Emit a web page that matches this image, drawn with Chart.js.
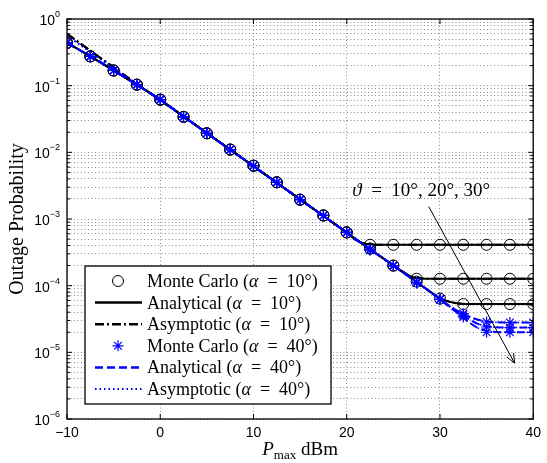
<!DOCTYPE html>
<html>
<head>
<meta charset="utf-8">
<script src="https://cdn.jsdelivr.net/npm/chart.js@4.4.1/dist/chart.umd.min.js"></script>
<style>
  html, body { margin: 0; padding: 0; background: #fff; }
  #wrap { width: 547px; height: 463px; }
</style>
</head>
<body>
<div id="wrap"><canvas id="c" width="547" height="463"></canvas></div>
<script>
// ---- Monte Carlo samples (every 2.5 dBm) ----
const mcX = [-10,-7.5,-5,-2.5,0,2.5,5,7.5,10,12.5,15,17.5,20,22.5,25,27.5,30,32.5,35,37.5,40];
const mcHead = [0.437,0.275,0.169,0.1035,0.0617,0.034,0.0193,0.011,0.0063,0.00355,0.00195,0.00113,0.00063];
const mcA10T10 = mcHead.concat([4.1e-4,4.1e-4,4.1e-4,4.1e-4,4.1e-4,4.1e-4,4.1e-4,4.1e-4]);
const mcA10T20 = mcHead.concat([3.6e-4,2.0e-4,1.27e-4,1.27e-4,1.27e-4,1.27e-4,1.27e-4,1.27e-4]);
const mcA10T30 = mcHead.concat([3.6e-4,2.0e-4,1.15e-4,6.4e-5,5.3e-5,5.3e-5,5.3e-5,5.3e-5]);
const mcA40T10 = mcHead.concat([3.5e-4,2.0e-4,1.12e-4,6.3e-5,3.8e-5,2.85e-5,2.8e-5,2.8e-5]);
const mcA40T20 = mcHead.concat([3.5e-4,2.0e-4,1.11e-4,6.2e-5,3.6e-5,2.4e-5,2.35e-5,2.35e-5]);
const mcA40T30 = mcHead.concat([3.4e-4,1.98e-4,1.1e-4,6.2e-5,3.4e-5,2.0e-5,2.0e-5,2.0e-5]);

// ---- Analytical curves ----
const anaX = [-10,-7.5,-5,-2.5,0,2.5,5,7.5,10,12.5,15,17.5,20,21,22,23,24,25,26,27,28,29,30,31,32,33,34,35,36,37.5,40];
const anaHead = [0.44,0.276,0.17,0.103,0.0615,0.0345,0.0194,0.011,0.0062,0.0035,0.00197,0.00111,0.000625];
const anaSlope = [4.95e-4,3.95e-4,3.15e-4,2.52e-4,2.0e-4,1.6e-4,1.27e-4,1.01e-4,8.0e-5];
const anaA10T10 = anaHead.concat([4.8e-4,4.25e-4,4.12e-4,4.1e-4,4.1e-4,4.1e-4,4.1e-4,4.1e-4,4.1e-4,4.1e-4,4.1e-4,4.1e-4,4.1e-4,4.1e-4,4.1e-4,4.1e-4,4.1e-4,4.1e-4]);
const anaA10T20 = anaHead.concat([4.95e-4,3.95e-4,3.15e-4,2.52e-4,2.0e-4,1.62e-4,1.35e-4,1.285e-4,1.27e-4,1.27e-4,1.27e-4,1.27e-4,1.27e-4,1.27e-4,1.27e-4,1.27e-4,1.27e-4,1.27e-4]);
const anaA10T30 = anaHead.concat(anaSlope, [6.4e-5,5.75e-5,5.4e-5,5.3e-5,5.3e-5,5.3e-5,5.3e-5,5.3e-5,5.3e-5]);
const anaA40T10 = anaHead.concat(anaSlope, [6.3e-5,5.0e-5,4.1e-5,3.5e-5,3.1e-5,2.9e-5,2.83e-5,2.8e-5,2.8e-5]);
const anaA40T20 = anaHead.concat(anaSlope, [6.25e-5,4.9e-5,3.9e-5,3.2e-5,2.7e-5,2.45e-5,2.38e-5,2.35e-5,2.35e-5]);
const anaA40T30 = anaHead.concat(anaSlope, [6.2e-5,4.85e-5,3.75e-5,2.9e-5,2.35e-5,2.1e-5,2.02e-5,2.0e-5,2.0e-5]);

// ---- Asymptotic curves: low-SNR part, then they merge with the analytical ones ----
const asymLowA10 = [0.60,0.335,0.188,0.106,0.0605];
const asymLowA40 = [0.56,0.32,0.182,0.105,0.0605];
const asymA10T10 = asymLowA10.concat(anaA10T10.slice(5));
const asymA10T20 = asymLowA10.concat(anaA10T20.slice(5));
const asymA10T30 = asymLowA10.concat(anaA10T30.slice(5));
const asymA40T10 = asymLowA40.concat(anaA40T10.slice(5));
const asymA40T20 = asymLowA40.concat(anaA40T20.slice(5));
const asymA40T30 = asymLowA40.concat(anaA40T30.slice(5));

const xTicks = [-10,0,10,20,30,40];
const yDecades = [1,1e-1,1e-2,1e-3,1e-4,1e-5,1e-6];
const legendLabels = ['Monte Carlo', 'Analytical', 'Asymptotic', 'Monte Carlo', 'Analytical', 'Asymptotic'];
const legendAlpha = ['10', '10', '10', '40', '40', '40'];
const thetaLabel = '10°, 20°, 30°';

const BLUE = '#0000ff';
const SERIF = '"Liberation Serif", "DejaVu Serif", serif';
const SANS = '"Liberation Sans", Arial, sans-serif';
const EQ = '\u2002=\u2002';

function pts(xs, ys) { return xs.map((x, i) => ({ x: x, y: ys[i] })); }

const styles = {
  mc10:   { showLine: false, pointStyle: 'circle', pointRadius: 5.5, borderColor: '#000', pointBorderColor: '#000', pointBackgroundColor: 'rgba(0,0,0,0)', pointBorderWidth: 1, borderWidth: 1 },
  ana10:  { borderColor: '#000', borderWidth: 2, pointRadius: 0, borderDash: [], cubicInterpolationMode: 'monotone' },
  asy10:  { borderColor: '#000', borderWidth: 2, pointRadius: 0, borderDash: [9, 3, 2, 3], cubicInterpolationMode: 'monotone' },
  mc40:   { showLine: false, pointStyle: 'star', pointRadius: 5.5, borderColor: BLUE, pointBorderColor: BLUE, pointBackgroundColor: BLUE, pointBorderWidth: 1.2, borderWidth: 1.2 },
  ana40:  { borderColor: BLUE, borderWidth: 2, pointRadius: 0, borderDash: [8, 4], cubicInterpolationMode: 'monotone' },
  asy40:  { borderColor: BLUE, borderWidth: 1.5, pointRadius: 0, borderDash: [1.5, 3], cubicInterpolationMode: 'monotone' }
};

// plotting order: later entries are drawn on top
const series = [
  ['mc10', mcX, mcA10T10], ['mc10', mcX, mcA10T20], ['mc10', mcX, mcA10T30],
  ['ana10', anaX, anaA10T10], ['ana10', anaX, anaA10T20], ['ana10', anaX, anaA10T30],
  ['asy10', anaX, asymA10T10], ['asy10', anaX, asymA10T20], ['asy10', anaX, asymA10T30],
  ['mc40', mcX, mcA40T10], ['mc40', mcX, mcA40T20], ['mc40', mcX, mcA40T30],
  ['ana40', anaX, anaA40T10], ['ana40', anaX, anaA40T20], ['ana40', anaX, anaA40T30],
  ['asy40', anaX, asymA40T10], ['asy40', anaX, asymA40T20], ['asy40', anaX, asymA40T30]
];

const datasets = series.map((s, i) => Object.assign({
  label: s[0], data: pts(s[1], s[2]), fill: false, order: -i, tension: 0
}, styles[s[0]]));

function richText(ctx, segs, x, y, align) {
  let w = 0;
  segs.forEach(s => { ctx.font = s[1]; w += ctx.measureText(s[0]).width; });
  let cx = align === 'center' ? x - w / 2 : (align === 'right' ? x - w : x);
  ctx.textAlign = 'left';
  ctx.textBaseline = 'alphabetic';
  segs.forEach(s => { ctx.font = s[1]; ctx.fillText(s[0], cx, y + (s[2] || 0)); cx += ctx.measureText(s[0]).width; });
  return w;
}

function drawStar(ctx, x, y, r) {
  ctx.beginPath();
  for (let k = 0; k < 4; k++) {
    const a = k * Math.PI / 4;
    ctx.moveTo(x - r * Math.cos(a), y - r * Math.sin(a));
    ctx.lineTo(x + r * Math.cos(a), y + r * Math.sin(a));
  }
  ctx.stroke();
}

const decorPlugin = {
  id: 'decor',
  afterDraw(chart) {
    const ctx = chart.ctx;
    const a = chart.chartArea;
    const xs = chart.scales.x, ys = chart.scales.y;
    ctx.save();

    // axes box
    ctx.strokeStyle = '#000';
    ctx.lineWidth = 1.3;
    ctx.setLineDash([]);
    ctx.strokeRect(a.left, a.top, a.right - a.left, a.bottom - a.top);

    // inward tick marks
    ctx.lineWidth = 1;
    ctx.beginPath();
    xTicks.forEach(v => {
      const px = xs.getPixelForValue(v);
      ctx.moveTo(px, a.bottom); ctx.lineTo(px, a.bottom - 5);
      ctx.moveTo(px, a.top); ctx.lineTo(px, a.top + 5);
    });
    for (let e = -6; e <= 0; e++) {
      for (let m = 1; m < 10; m++) {
        if (e === 0 && m > 1) break;
        const py = ys.getPixelForValue(m * Math.pow(10, e));
        const len = m === 1 ? 5 : 3;
        ctx.moveTo(a.left, py); ctx.lineTo(a.left + len, py);
        ctx.moveTo(a.right, py); ctx.lineTo(a.right - len, py);
      }
    }
    ctx.stroke();

    // y tick labels with exponents
    ctx.fillStyle = '#000';
    yDecades.forEach((v, i) => {
      const py = ys.getPixelForValue(v);
      const exp = i === 0 ? '0' : '\u2212' + i;
      ctx.font = '9px ' + SANS;
      const ew = ctx.measureText(exp).width;
      const right = a.left - 7;
      ctx.textAlign = 'left'; ctx.textBaseline = 'alphabetic';
      ctx.fillText(exp, right - ew, py - 2);
      ctx.font = '14px ' + SANS;
      ctx.textAlign = 'right';
      ctx.fillText('10', right - ew, py + 6);
    });

    // axis titles
    ctx.fillStyle = '#000';
    richText(ctx, [['P', 'italic 19px ' + SERIF], ['max', '13px ' + SERIF, 4], [' dBm', '19px ' + SERIF]], (a.left + a.right) / 2, 455, 'center');
    ctx.save();
    ctx.translate(18, (a.top + a.bottom) / 2);
    ctx.rotate(-Math.PI / 2);
    ctx.font = '20px ' + SERIF;
    ctx.textAlign = 'center'; ctx.textBaseline = 'alphabetic';
    ctx.fillText('Outage Probability', 0, 5);
    ctx.restore();

    // annotation: theta values with arrow
    const tx = xs.getPixelForValue(20.6), ty = ys.getPixelForValue(2.2e-3);
    richText(ctx, [['\u03D1', 'italic 19px ' + SERIF], [EQ + thetaLabel, '19px ' + SERIF]], tx, ty, 'left');
    const x0 = xs.getPixelForValue(28.8), y0 = ys.getPixelForValue(1.53e-3);
    const x1 = xs.getPixelForValue(38.0), y1 = ys.getPixelForValue(6.9e-6);
    ctx.strokeStyle = '#000'; ctx.lineWidth = 1; ctx.setLineDash([]);
    ctx.beginPath(); ctx.moveTo(x0, y0); ctx.lineTo(x1, y1); ctx.stroke();
    const ang = Math.atan2(y1 - y0, x1 - x0);
    ctx.beginPath();
    [0.4, -0.4].forEach(d => {
      ctx.moveTo(x1, y1);
      ctx.lineTo(x1 - 10 * Math.cos(ang + d), y1 - 10 * Math.sin(ang + d));
    });
    ctx.stroke();

    // legend
    const L = { x: 85, y: 266, w: 246, h: 138 };
    ctx.fillStyle = '#fff';
    ctx.fillRect(L.x, L.y, L.w, L.h);
    ctx.strokeStyle = '#000'; ctx.lineWidth = 1.3;
    ctx.strokeRect(L.x, L.y, L.w, L.h);
    const keys = ['mc10', 'ana10', 'asy10', 'mc40', 'ana40', 'asy40'];
    keys.forEach((k, i) => {
      const st = styles[k];
      const cy = L.y + 15 + i * 21.6;
      ctx.save();
      if (st.showLine === false) {
        ctx.strokeStyle = st.pointBorderColor; ctx.lineWidth = st.pointBorderWidth; ctx.setLineDash([]);
        if (st.pointStyle === 'circle') {
          ctx.beginPath(); ctx.arc(118, cy, st.pointRadius, 0, Math.PI * 2); ctx.stroke();
        } else {
          drawStar(ctx, 118, cy, st.pointRadius);
        }
      } else {
        ctx.strokeStyle = st.borderColor; ctx.lineWidth = st.borderWidth + 0.5;
        ctx.setLineDash(st.borderDash || []);
        ctx.beginPath(); ctx.moveTo(95, cy); ctx.lineTo(142, cy); ctx.stroke();
      }
      ctx.restore();
      ctx.fillStyle = '#000';
      richText(ctx, [[legendLabels[i] + ' (', '18px ' + SERIF], ['\u03B1', 'italic 18px ' + SERIF], [EQ + legendAlpha[i] + '°)', '18px ' + SERIF]], 147, cy + 6, 'left');
    });
    ctx.restore();
  }
};

new Chart(document.getElementById('c'), {
  type: 'line',
  data: { datasets: datasets },
  options: {
    responsive: false,
    animation: false,
    events: [],
    layout: { padding: { top: 19, right: 10, left: 0, bottom: 0 } },
    plugins: { legend: { display: false }, tooltip: { enabled: false } },
    scales: {
      x: {
        type: 'linear', min: -10, max: 40,
        afterBuildTicks(scale) { scale.ticks = xTicks.map(v => ({ value: v })); },
        afterFit(scale) { scale.height = 44; },
        ticks: {
          color: '#000', padding: 6,
          font: { family: SANS, size: 14 },
          callback: v => (v < 0 ? '\u2212' + Math.abs(v) : String(v))
        },
        grid: { color: 'rgba(0,0,0,0.45)', lineWidth: 1, drawTicks: false },
        border: { display: false, dash: [1, 2.5] }
      },
      y: {
        type: 'logarithmic', min: 1e-6, max: 1,
        afterBuildTicks(scale) {
          const t = [];
          for (let e = -6; e < 0; e++) for (let m = 1; m < 10; m++) t.push({ value: m * Math.pow(10, e), major: m === 1 });
          t.push({ value: 1, major: true });
          scale.ticks = t;
        },
        afterFit(scale) { scale.width = 67; },
        ticks: { display: false },
        grid: { color: 'rgba(0,0,0,0.45)', lineWidth: 1, drawTicks: false },
        border: { display: false, dash: [1, 2.5] }
      }
    }
  },
  plugins: [decorPlugin]
});
</script>
</body>
</html>
